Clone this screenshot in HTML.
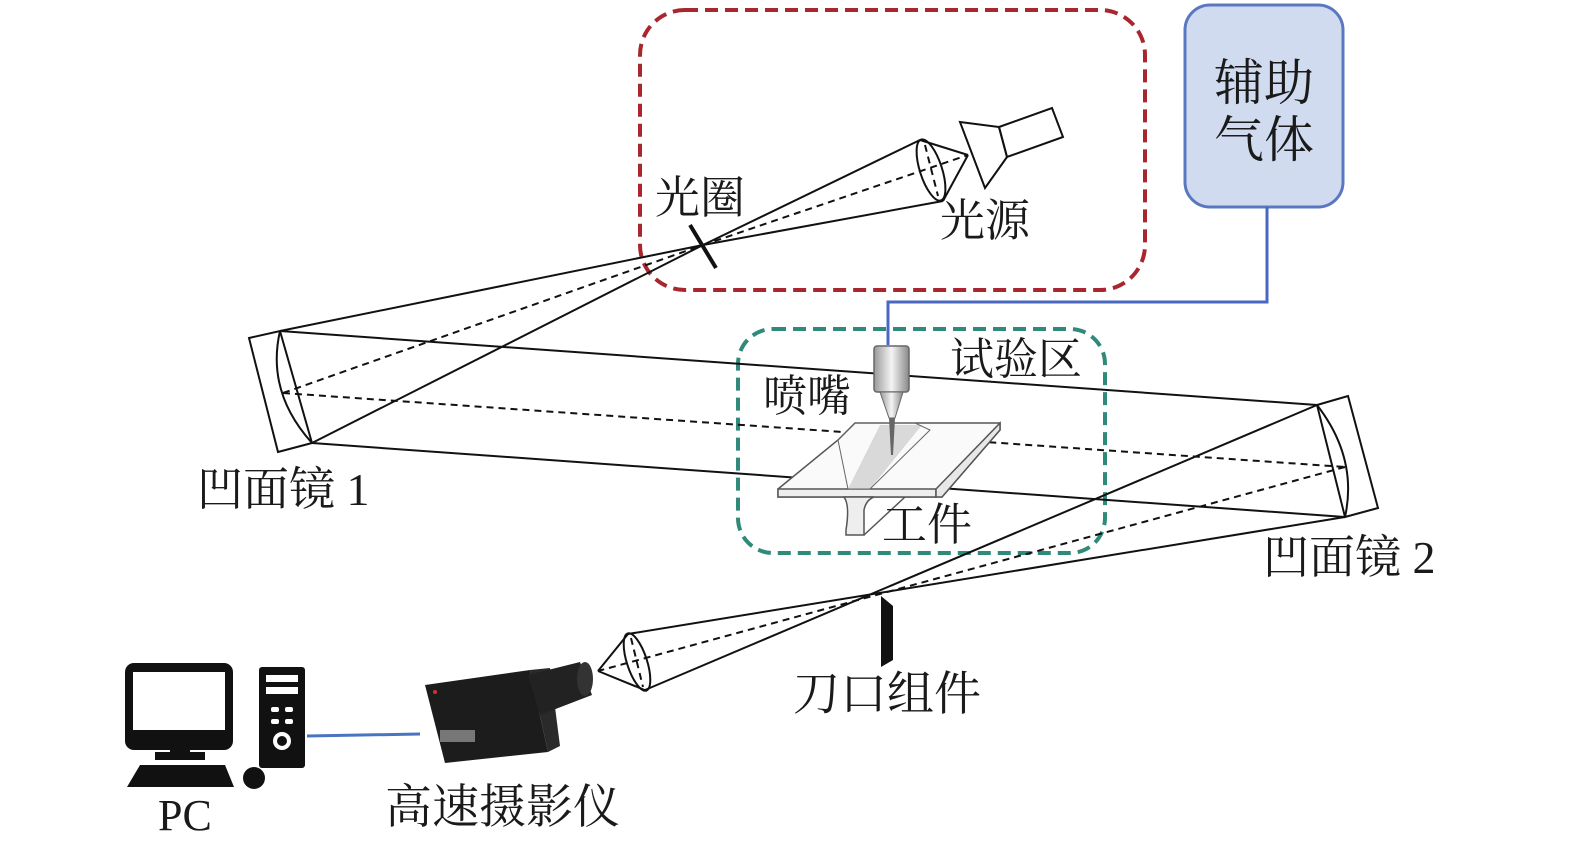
<!DOCTYPE html>
<html><head><meta charset="utf-8"><style>
html,body{margin:0;padding:0;background:#fff;}
svg{display:block;}
text{font-family:"Liberation Serif","Noto Serif CJK SC",serif;fill:#1a1a1a;}
</style></head><body>
<svg width="1575" height="848" viewBox="0 0 1575 848" xmlns="http://www.w3.org/2000/svg">
<rect x="640" y="10" width="505" height="280" rx="45" fill="none" stroke="#a8262e" stroke-width="4" stroke-dasharray="13,7"/>
<rect x="738" y="329" width="367" height="224" rx="35" fill="none" stroke="#2f8a7a" stroke-width="4" stroke-dasharray="13,7"/>
<rect x="1185" y="5" width="158" height="202" rx="25" fill="#d0dbf0" stroke="#5a78c0" stroke-width="3"/>
<polyline points="1267,207 1267,302 888,302 888,345" fill="none" stroke="#4a68c0" stroke-width="3"/>
<text x="1264" y="100" font-size="50" text-anchor="middle">辅助</text>
<text x="1264" y="157" font-size="50" text-anchor="middle">气体</text>

<g fill="none" stroke="#111" stroke-width="2">
<polygon points="249,338 280,331 312,443 278,452"/>
<path d="M280,331 Q266,392 312,443"/>
<polygon points="1317,405 1348,396 1378,508 1345,517"/>
<path d="M1317,405 Q1358,458 1345,517"/>
<line x1="280" y1="331" x2="703" y2="245"/>
<line x1="312" y1="443" x2="703" y2="245"/>
<line x1="703" y1="245" x2="920" y2="140"/>
<line x1="703" y1="245" x2="943" y2="201"/>
<ellipse cx="931" cy="170" rx="11" ry="32" transform="rotate(-18 931 170)"/>
<line x1="920" y1="140" x2="968" y2="155"/>
<line x1="943" y1="201" x2="968" y2="155"/>
<polygon points="960,122 999,127 1007,157 985,188"/>
<polygon points="999,127 1052,108 1063,137 1007,157"/>
<line x1="280" y1="331" x2="1317" y2="405"/>
<line x1="312" y1="443" x2="1345" y2="517"/>
<line x1="1317" y1="405" x2="645" y2="690"/>
<line x1="1345" y1="517" x2="628" y2="634"/>
<ellipse cx="637" cy="662" rx="10" ry="30" transform="rotate(-18 637 662)"/>
<line x1="628" y1="634" x2="598" y2="671"/>
<line x1="647" y1="691" x2="598" y2="671"/>
</g>
<g fill="none" stroke="#111" stroke-width="2" stroke-dasharray="7,5">
<line x1="283" y1="393" x2="703" y2="245"/>
<line x1="703" y1="245" x2="968" y2="155"/>
<line x1="925" y1="145" x2="938" y2="196"/>
<line x1="283" y1="393" x2="1345" y2="467"/>
<line x1="1345" y1="467" x2="598" y2="671"/>
<line x1="631" y1="638" x2="643" y2="687"/>
</g>
<line x1="690" y1="225" x2="716" y2="268" stroke="#111" stroke-width="4"/>
<polygon points="881,596 893,606 893,660 881,667" fill="#111"/>

<g stroke="#555" stroke-width="1.5" fill="#fafafa">
<polygon points="855,423 1000,423 1000,430 942,497 778,497 778,489 838,440"/>
<polygon points="778,489 936,489 936,497 778,497" fill="#eee"/>
<polygon points="936,489 1000,423 1000,430 942,497 936,497" fill="#e8e8e8"/>
<path d="M844,497 Q850,505 846,530 L846,535 L864,535 L864,510 Q866,500 874,497 Z" fill="#eee"/>
<path d="M864,535 L905,497" fill="none"/>
</g>
<polygon points="880,425 922,425 870,489 848,489" fill="#d9d9d9"/>
<polygon points="855,423 915,423 930,430 870,489 848,489 838,440" fill="none" stroke="#666" stroke-width="1"/>
<defs><linearGradient id="g" x1="0" x2="1"><stop offset="0" stop-color="#999"/><stop offset="0.5" stop-color="#f4f4f4"/><stop offset="1" stop-color="#888"/></linearGradient></defs>
<rect x="874" y="346" width="35" height="46" rx="3" fill="url(#g)" stroke="#666" stroke-width="1.5"/>
<polygon points="880,392 903,392 895,418 889,418" fill="url(#g)" stroke="#666"/>
<polygon points="889,418 895,418 893,455 891,455" fill="#666"/>

<rect x="125" y="663" width="108" height="87" rx="9" fill="#111"/>
<rect x="133" y="672" width="92" height="58" fill="#fff"/>
<rect x="170" y="748" width="20" height="6" fill="#111"/>
<rect x="155" y="752" width="50" height="8" fill="#111"/>
<polygon points="140,765 225,765 234,787 127,787" fill="#111"/>
<circle cx="254" cy="778" r="11" fill="#111"/>
<rect x="259" y="667" width="46" height="101" rx="3" fill="#111"/>
<rect x="266" y="675" width="32" height="7" fill="#fff"/>
<rect x="266" y="687" width="32" height="7" fill="#fff"/>
<rect x="271" y="707" width="8" height="5" rx="2" fill="#fff"/><rect x="285" y="707" width="8" height="5" rx="2" fill="#fff"/>
<rect x="271" y="719" width="8" height="5" rx="2" fill="#fff"/><rect x="285" y="719" width="8" height="5" rx="2" fill="#fff"/>
<circle cx="282" cy="741" r="9" fill="#fff"/><circle cx="282" cy="741" r="5" fill="#111"/>
<line x1="307" y1="736" x2="420" y2="734" stroke="#4a74c0" stroke-width="3"/>
<polygon points="425,685 530,670 548,752 445,763" fill="#1c1c1c"/>
<polygon points="530,670 548,752 560,746 550,668" fill="#2a2a2a"/>
<polygon points="528,675 580,662 592,695 540,715" fill="#222"/>
<ellipse cx="585" cy="679" rx="8" ry="17" fill="#333"/>
<rect x="440" y="730" width="35" height="12" fill="#777"/>
<circle cx="435" cy="692" r="2" fill="#c33"/>

<text x="655" y="213" font-size="45">光圈</text>
<text x="940" y="236" font-size="45">光源</text>
<text x="950" y="374" font-size="44">试验区</text>
<text x="763" y="411" font-size="44">喷嘴</text>
<text x="882" y="540" font-size="45">工件</text>
<text x="197" y="505" font-size="46">凹面镜 1</text>
<text x="1263" y="573" font-size="46">凹面镜 2</text>
<text x="793" y="710" font-size="47">刀口组件</text>
<text x="385" y="823" font-size="47">高速摄影仪</text>
<text x="158" y="830" font-size="44">PC</text>
</svg>
</body></html>
